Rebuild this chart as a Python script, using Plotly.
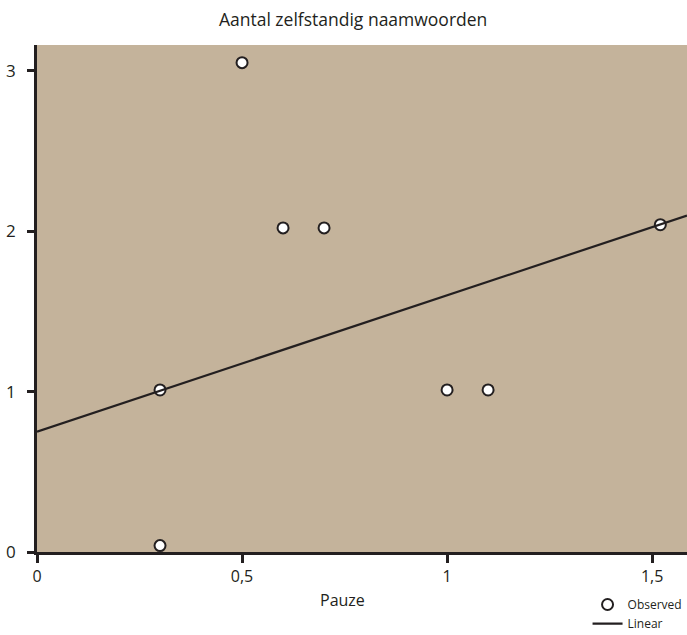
import plotly.graph_objects as go

pauze = [0.3, 0.3, 0.5, 0.6, 0.7, 1.0, 1.1, 1.52]
naamwoorden = [0.04, 1.01, 3.05, 2.02, 2.02, 1.01, 1.01, 2.04]
line_x = [0.0, 1.585]
intercept = 0.75
slope = 0.85
line_y = [intercept + slope * v for v in line_x]

x_ticks = [0, 0.5, 1, 1.5]
x_ticklabels = ["0", "0,5", "1", "1,5"]
y_ticks = [0, 1, 2, 3]
y_ticklabels = ["0", "1", "2", "3"]

ink = "#231f20"
font = "Open Sans, sans-serif"

fig = go.Figure()
fig.add_trace(go.Scatter(
    x=pauze, y=naamwoorden, mode="markers", name="Observed",
    marker=dict(size=11, color="white", line=dict(color=ink, width=2)),
    cliponaxis=False,
))
fig.add_trace(go.Scatter(
    x=line_x, y=line_y, mode="lines", name="Linear",
    line=dict(color=ink, width=2.2),
))

fig.add_annotation(
    text="Pauze", xref="paper", yref="paper", x=0.47, y=-0.0947,
    xanchor="center", yanchor="middle", showarrow=False,
    font=dict(family=font, size=16, color=ink),
)

fig.update_layout(
    width=687, height=635,
    margin=dict(l=37, r=0, t=45, b=83, autoexpand=False),
    paper_bgcolor="white",
    plot_bgcolor="#c4b39b",
    title=dict(text="Aantal zelfstandig naamwoorden", x=0.514, xanchor="center",
               y=0.968, yanchor="middle", font=dict(family=font, size=17.5, color=ink)),
    font=dict(family=font, color=ink, size=13),
    xaxis=dict(range=[0, 1.585], tickvals=x_ticks, ticktext=x_ticklabels,
               showgrid=False, zeroline=False, showline=True, linecolor=ink,
               linewidth=2.5, ticks="outside", ticklen=8, tickwidth=2.5, tickcolor=ink,
               tickfont=dict(size=16)),
    yaxis=dict(range=[0, 3.16], tickvals=y_ticks, ticktext=y_ticklabels,
               showgrid=False, zeroline=False, showline=True, linecolor=ink,
               linewidth=2.5, ticks="outside", ticklen=7, tickwidth=2.5, tickcolor=ink,
               ticklabelstandoff=8, tickfont=dict(size=17)),
    legend=dict(x=0.847, xanchor="left", y=-0.075, yanchor="top",
                bgcolor="rgba(0,0,0,0)", font=dict(size=12),
                itemwidth=30, tracegroupgap=0),
    showlegend=True,
)

fig.write_html(
    "out.html",
    config={"displayModeBar": False},
    post_script="document.body.style.margin='0px'; document.body.style.padding='0px'; document.body.style.overflow='hidden';",
)
